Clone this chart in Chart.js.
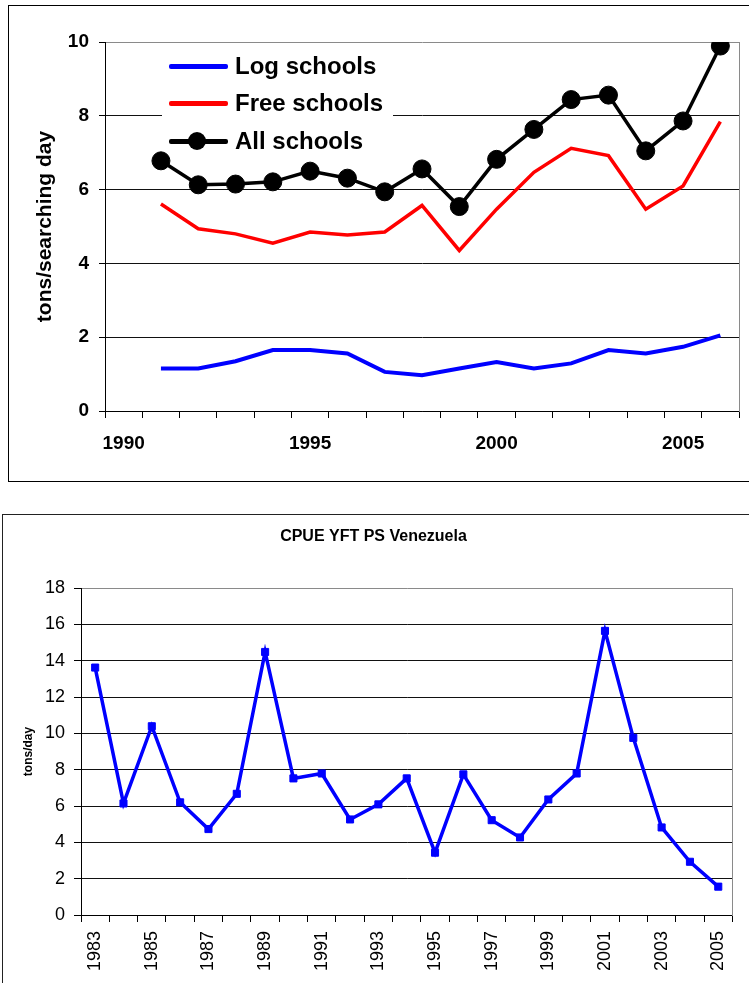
<!DOCTYPE html>
<html><head><meta charset="utf-8">
<script src="https://cdn.jsdelivr.net/npm/chart.js@4/dist/chart.umd.min.js"></script>
<style>
html,body{margin:0;padding:0;background:#fff;width:749px;height:983px;overflow:hidden;position:relative;font-family:"Liberation Sans",Arial,sans-serif;}
.box{position:absolute;box-sizing:border-box;}
#box1{left:8px;top:5px;width:800px;height:477px;border:1.5px solid #000;}
#box2{left:2px;top:514px;width:800px;height:520px;border:1.5px solid #222;}
#c1{position:absolute;left:0;top:0;}
#c2{position:absolute;left:0;top:510px;}
#legend{position:absolute;left:162px;top:47px;width:231px;height:103px;background:#fff;}
.lg-line{position:absolute;left:169px;width:59px;height:5px;border-radius:2px;}
.lg-dot{position:absolute;left:188px;width:18px;height:18px;border-radius:50%;background:#000;}
.lg-text{position:absolute;left:235px;font:bold 24px "Liberation Sans",Arial,sans-serif;color:#000;line-height:28px;white-space:nowrap;}
</style></head>
<body>
<div class="box" id="box1"></div>
<div class="box" id="box2"></div>
<canvas id="c1" width="749" height="490"></canvas>
<canvas id="c2" width="749" height="473"></canvas>
<div id="legend"></div>
<div class="lg-line" style="top:63.5px;background:#0000ff"></div>
<div class="lg-text" style="top:52px">Log schools</div>
<div class="lg-line" style="top:100.5px;background:#ff0000"></div>
<div class="lg-text" style="top:89px">Free schools</div>
<div class="lg-line" style="top:138.5px;background:#000"></div>
<div class="lg-dot" style="top:132px"></div>
<div class="lg-text" style="top:127px">All schools</div>
<script>
// ---- Top chart data ----
const topAxisYears = ['1990','1991','1992','1993','1994','1995','1996','1997','1998','1999','2000','2001','2002','2003','2004','2005','2006'];
const topYears = ['1991','1992','1993','1994','1995','1996','1997','1998','1999','2000','2001','2002','2003','2004','2005','2006'];
const logSchools = [1.15,1.15,1.35,1.65,1.65,1.56,1.06,0.97,1.15,1.33,1.15,1.29,1.65,1.56,1.74,2.05];
const freeSchools = [5.61,4.94,4.80,4.55,4.85,4.77,4.85,5.57,4.35,5.47,6.47,7.12,6.92,5.47,6.10,7.84];
const allSchools = [6.78,6.13,6.15,6.21,6.50,6.31,5.94,6.56,5.54,6.82,7.63,8.44,8.56,7.05,7.86,9.89];
const topXLabels = ['1990','1995','2000','2005'];
const topYMin = 0, topYMax = 10, topYStep = 2;

// ---- Bottom chart data ----
const vzYears = ['1983','1984','1985','1986','1987','1988','1989','1990','1991','1992','1993','1994','1995','1996','1997','1998','1999','2000','2001','2002','2003','2004','2005'];
const vzCpue = [13.62,6.14,10.39,6.20,4.73,6.67,14.48,7.52,7.79,5.26,6.09,7.52,3.43,7.74,5.22,4.27,6.36,7.79,15.64,9.75,4.82,2.93,1.56];
const vzXLabels = ['1983','1985','1987','1989','1991','1993','1995','1997','1999','2001','2003','2005'];
const vzYMin = 0, vzYMax = 18, vzYStep = 2;

const FF = '"Liberation Sans", Arial, sans-serif';
const pts = (xs, ys) => xs.map((x, i) => ({x: x, y: ys[i]}));

new Chart(document.getElementById('c1'), {
  type: 'line',
  data: {
    labels: topAxisYears,
    datasets: [
      {label: 'Log schools', data: pts(topYears, logSchools), borderColor: '#0000ff', borderWidth: 4, pointRadius: 0, tension: 0},
      {label: 'Free schools', data: pts(topYears, freeSchools), borderColor: '#ff0000', borderWidth: 3.5, pointRadius: 0, tension: 0},
      {label: 'All schools', data: pts(topYears, allSchools), borderColor: '#000', borderWidth: 3.5, pointRadius: 9, pointBackgroundColor: '#000', pointBorderColor: '#000', pointBorderWidth: 1, tension: 0}
    ]
  },
  options: {
    responsive: false, animation: false,
    layout: {padding: {left: 0, right: 7, top: 42, bottom: 0}},
    plugins: {legend: {display: false}, tooltip: {enabled: false}},
    scales: {
      x: {
        type: 'category', offset: true,
        grid: {offset: true, drawOnChartArea: false, drawTicks: true, tickLength: 7, color: '#000', lineWidth: 1},
        border: {display: true, color: '#000', width: 1},
        ticks: {autoSkip: false, maxRotation: 0, minRotation: 0, padding: 14, color: '#000',
          font: {family: FF, size: 19, weight: 'bold'},
          callback: function(v){ const l = this.getLabelForValue(v); return topXLabels.includes(l) ? l : ''; }},
        afterFit: s => { s.height = 79; }
      },
      y: {
        min: topYMin, max: topYMax,
        grid: {color: c => (c.tick && c.tick.value === topYMax) ? '#8a8a8a' : '#111', tickColor: '#000', tickLength: 6, lineWidth: 1},
        border: {display: true, color: '#000', width: 1},
        ticks: {stepSize: topYStep, padding: 10, color: '#000', font: {family: FF, size: 19, weight: 'bold'}},
        title: {display: true, text: 'tons/searching day', color: '#000', font: {family: FF, size: 21, weight: 'bold'}, padding: {top: 33, bottom: 0}},
        afterFit: s => { s.width = 105; }
      },
      y2: {
        position: 'right', min: topYMin, max: topYMax,
        grid: {display: false, drawTicks: false},
        border: {display: true, color: '#8a8a8a', width: 1},
        ticks: {display: false},
        afterFit: s => { s.width = 0; }
      }
    }
  }
});

new Chart(document.getElementById('c2'), {
  type: 'line',
  data: {
    labels: vzYears,
    datasets: [
      {label: 'CPUE', data: vzCpue, borderColor: '#0000ff', borderWidth: 3.5, pointStyle: 'rect', pointRadius: 5, pointBackgroundColor: '#0000ff', pointBorderColor: '#0000ff', pointBorderWidth: 1, tension: 0}
    ]
  },
  options: {
    responsive: false, animation: false,
    layout: {padding: {left: 0, right: 2, top: 0, bottom: 0}},
    plugins: {
      legend: {display: false}, tooltip: {enabled: false},
      title: {display: true, text: 'CPUE YFT PS Venezuela', color: '#000', font: {family: FF, size: 16, weight: 'bold', lineHeight: 1.125}, padding: {top: 18, bottom: 42}}
    },
    scales: {
      x: {
        type: 'category', offset: true,
        grid: {offset: true, drawOnChartArea: false, drawTicks: true, tickLength: 7, color: '#000', lineWidth: 1},
        border: {display: true, color: '#000', width: 1},
        ticks: {autoSkip: false, maxRotation: 90, minRotation: 90, padding: 9, color: '#000',
          font: {family: FF, size: 18},
          callback: function(v){ const l = this.getLabelForValue(v); return vzXLabels.includes(l) ? l : ''; }},
        afterFit: s => { s.height = 68; }
      },
      y: {
        min: vzYMin, max: vzYMax,
        grid: {color: c => (c.tick && c.tick.value === vzYMax) ? '#8a8a8a' : '#111', tickColor: '#000', tickLength: 7, lineWidth: 1},
        border: {display: true, color: '#000', width: 1},
        ticks: {stepSize: vzYStep, padding: 9, color: '#000', font: {family: FF, size: 18}},
        title: {display: true, text: 'tons/day', color: '#000', font: {family: FF, size: 12, weight: 'bold'}, padding: {top: 21, bottom: 0}},
        afterFit: s => { s.width = 81; }
      },
      y2: {
        position: 'right', min: vzYMin, max: vzYMax,
        grid: {display: false, drawTicks: false},
        border: {display: true, color: '#8a8a8a', width: 1},
        ticks: {display: false},
        afterFit: s => { s.width = 0; }
      }
    }
  }
});
</script>
</body></html>
